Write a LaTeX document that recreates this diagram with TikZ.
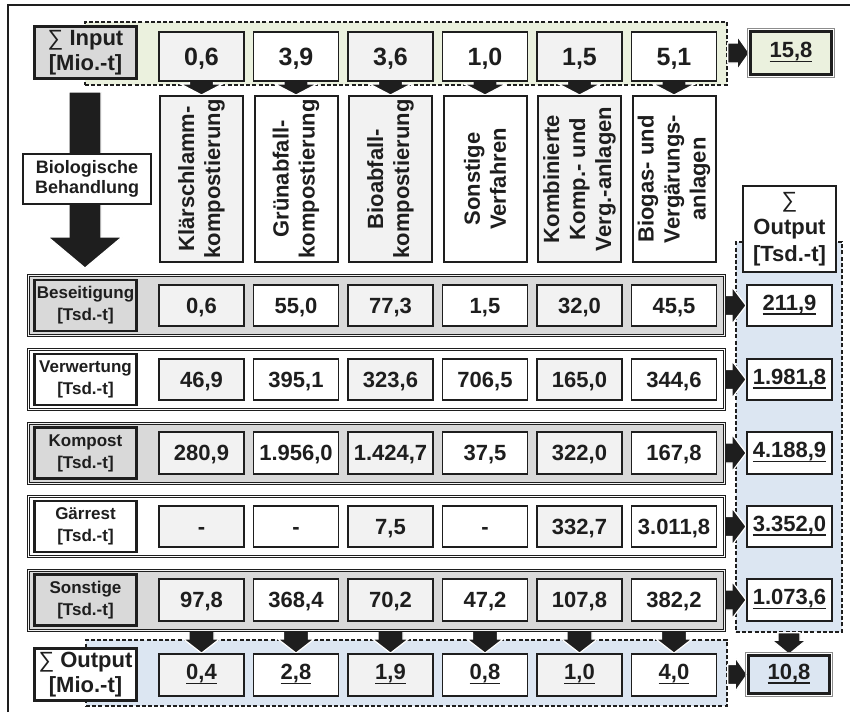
\documentclass[tikz,border=0pt]{standalone}
\usepackage{fontspec}
\setmainfont{Liberation Sans}
\usetikzlibrary{calc}
\pgfdeclarelayer{back}
\pgfdeclarelayer{mid}
\pgfsetlayers{back,mid,main}

\definecolor{ink}{HTML}{1E1E1E}
\definecolor{bandgray}{HTML}{D9D9D9}
\definecolor{cellgray}{HTML}{F2F2F2}
\definecolor{ingreen}{HTML}{EBF1DE}
\definecolor{outblue}{HTML}{DCE6F2}

\newcommand\fs[2]{\fontsize{#1}{#2}\selectfont\bfseries}
\newcommand\ulnum[1]{\setbox0\hbox{#1}\leavevmode\rlap{\rule[-4.5pt]{\wd0}{1.8pt}}\box0}
\newcommand\sumsign{{\mdseries ∑}}
\newcommand\unitM{[Mio.-t]}
\newcommand\unitT{[Tsd.-t]}

\tikzset{
  frameline/.style={draw=ink, line width=1.8pt},
  region/.style={draw=ink, line width=1.5pt, dash pattern=on 4pt off 2.2pt, inner sep=0pt},
  cell/.style={draw=ink, line width=1.8pt, minimum width=85pt, minimum height=41.5pt,
    inner sep=0pt, text=ink, font=\fs{22}{24}, text height=15.8pt, text depth=0pt},
  ulcell/.style={cell, text depth=6pt},
  band/.style={draw=ink, line width=1pt, double distance=1pt, minimum width=696pt,
    minimum height=60pt, inner sep=0pt},
  labelbox/.style={draw=ink, line width=2.4pt, minimum width=102pt, minimum height=51pt,
    inner sep=0pt, text=ink, align=center, font=\fs{17}{22}},
  vbox/.style={draw=ink, line width=2pt, minimum width=83pt, minimum height=166pt, inner sep=0pt},
  vtext/.style={rotate=90, align=center, text=ink, font=\fs{22}{26}, inner sep=0pt},
  totbox/.style={draw=ink, line width=3pt, minimum width=80.6pt, inner sep=0pt, text=ink,
    font=\fs{22}{24}, text height=15.8pt, text depth=6pt},
  blockarrow/.style={fill=ink, draw=white, line width=1.2pt, line join=miter},
}

% one row of six value cells, alternating light gray and white
\newcommand\cellrow[9]{%
  \node[cell,fill=cellgray,#3] (#1-1) at (201.5,#2) {#4};
  \node[cell,fill=white,#3] (#1-2) at (296,#2) {#5};
  \node[cell,fill=cellgray,#3] (#1-3) at (390.5,#2) {#6};
  \node[cell,fill=white,#3] (#1-4) at (485,#2) {#7};
  \node[cell,fill=cellgray,#3] (#1-5) at (579.5,#2) {#8};
  \node[cell,fill=white,#3] (#1-6) at (674,#2) {#9};}

% block arrow pointing down: start point, tip, shaft half width, head half width, head length
\newcommand\DnArrow[5]{%
  \filldraw[blockarrow] let \p1=(#1), \p2=(#2) in
    (\x2-#3,\y1) -- (\x2+#3,\y1) -- (\x2+#3,\y2+#5) -- (\x2+#4,\y2+#5)
    -- (\x2,\y2) -- (\x2-#4,\y2+#5) -- (\x2-#3,\y2+#5) -- cycle;}

% block arrow pointing right: start point, tip, shaft half height, head half height, head length
\newcommand\RtArrow[5]{%
  \filldraw[blockarrow] let \p1=(#1), \p2=(#2) in
    (\x1,\y2+#3) -- (\x2-#5,\y2+#3) -- (\x2-#5,\y2+#4) -- (\x2,\y2)
    -- (\x2-#5,\y2-#4) -- (\x2-#5,\y2-#3) -- (\x1,\y2-#3) -- cycle;}

\begin{document}
\begin{tikzpicture}[x=1pt,y=-1pt]
\useasboundingbox (0,0) rectangle (853,712);

% outer frame
\draw[frameline] (8,712) -- (8,5) -- (850,5);

% shaded dashed groups
\begin{pgfonlayer}{back}
  \node[region, fill=ingreen, minimum width=642pt, minimum height=63pt] (inreg) at (406,53.5) {};
  \node[region, fill=outblue, minimum width=106pt, minimum height=390pt] (rreg) at (789,437) {};
  \node[region, fill=outblue, minimum width=641pt, minimum height=66pt] (oreg) at (406.5,673) {};
\end{pgfonlayer}

% input row
\node[labelbox, fill=bandgray, minimum height=52pt, font=\fs{22}{25}] (inlab) at (85.5,52.5) {\sumsign\ Input\\\unitM};
\cellrow{t}{56.5}{minimum height=49pt, font=\fs{25}{28}, text height=17.9pt}{0,6}{3,9}{3,6}{1,0}{1,5}{5,1}
\node[totbox, fill=ingreen, minimum height=42.6pt] (tot1) at (791,53) {\ulnum{15,8}};
\draw[line width=1.2pt, black!45] ([shift={(-1.6pt,-1.6pt)}]tot1.south west) rectangle ([shift={(1.6pt,1.6pt)}]tot1.north east);

% treatment types
\node[vbox, fill=cellgray] (k1) at (201.5,179) {};
\node[vtext] (k1t) at (k1) {Klärschlamm-\\kompostierung};
\node[vbox, fill=white] (k2) at (296,179) {};
\node[vtext] (k2t) at (k2) {Grünabfall-\\kompostierung};
\node[vbox, fill=cellgray] (k3) at (390.5,179) {};
\node[vtext] (k3t) at (k3) {Bioabfall-\\kompostierung};
\node[vbox, fill=white] (k4) at (485,179) {};
\node[vtext] (k4t) at (k4) {Sonstige\\Verfahren};
\node[vbox, fill=cellgray] (k5) at (579.5,179) {};
\node[vtext] (k5t) at (k5) {Kombinierte\\Komp.- und\\Verg.-anlagen};
\node[vbox, fill=white] (k6) at (674,179) {};
\node[vtext] (k6t) at (k6) {Biogas- und\\Vergärungs-\\anlagen};

% left process arrow
\coordinate (bigtop) at (85,92);
\coordinate (bigtip) at (85,268);
\node[draw=ink, line width=2pt, fill=white, minimum width=128pt, minimum height=50pt,
  inner sep=0pt, align=center, text=ink, font=\fs{18}{20}] (bio) at (87,179) {Biologische\\Behandlung};

% output header
\node[draw=ink, line width=2pt, fill=white, minimum width=92.5pt, minimum height=85.5pt,
  inner sep=0pt, align=center, text=ink, font=\fs{22}{27}] (outhead) at (789.5,229) {\sumsign\\Output\\\unitT};

% output rows
\node[band, fill=bandgray, double=cellgray] (b1) at (376.5,305.5) {};
\node[band, fill=white, double=white] (b2) at (376.5,379.5) {};
\node[band, fill=bandgray, double=cellgray] (b3) at (376.5,453) {};
\node[band, fill=white, double=white] (b4) at (376.5,526.5) {};
\node[band, fill=bandgray, double=cellgray] (b5) at (376.5,600) {};

\node[labelbox, fill=bandgray] (l1) at (85.5,305.5) {Beseitigung\\\unitT};
\node[labelbox, fill=white] (l2) at (85.5,379.5) {Verwertung\\\unitT};
\node[labelbox, fill=bandgray] (l3) at (85.5,453) {Kompost\\\unitT};
\node[labelbox, fill=white] (l4) at (85.5,526.5) {Gärrest\\\unitT};
\node[labelbox, fill=bandgray] (l5) at (85.5,600) {Sonstige\\\unitT};

\cellrow{v1}{305.5}{}{0,6}{55,0}{77,3}{1,5}{32,0}{45,5}
\cellrow{v2}{379.5}{}{46,9}{395,1}{323,6}{706,5}{165,0}{344,6}
\cellrow{v3}{453}{}{280,9}{1.956,0}{1.424,7}{37,5}{322,0}{167,8}
\cellrow{v4}{526.5}{}{-}{-}{7,5}{-}{332,7}{3.011,8}
\cellrow{v5}{600}{}{97,8}{368,4}{70,2}{47,2}{107,8}{382,2}

\node[ulcell, fill=white] (r1) at (789.5,305.5) {\ulnum{211,9}};
\node[ulcell, fill=white] (r2) at (789.5,379.5) {\ulnum{1.981,8}};
\node[ulcell, fill=white] (r3) at (789.5,453) {\ulnum{4.188,9}};
\node[ulcell, fill=white] (r4) at (789.5,526.5) {\ulnum{3.352,0}};
\node[ulcell, fill=white] (r5) at (789.5,600) {\ulnum{1.073,6}};

% output totals row
\node[labelbox, fill=white, minimum height=52pt, font=\fs{22}{25}] (outlab) at (85.5,674.5) {\sumsign\ Output\\\unitM};
\cellrow{o}{675}{text depth=6pt, minimum height=42pt}{\ulnum{0,4}}{\ulnum{2,8}}{\ulnum{1,9}}{\ulnum{0,8}}{\ulnum{1,0}}{\ulnum{4,0}}
\node[totbox, fill=outblue, minimum height=37.6pt] (tot2) at (789,674.5) {\ulnum{10,8}};
\draw[line width=1.2pt, black!45] ([shift={(-1.6pt,-1.6pt)}]tot2.south west) rectangle ([shift={(1.6pt,1.6pt)}]tot2.north east);

% flow arrows
\begin{pgfonlayer}{mid}
  \DnArrow{bigtop}{bigtip}{16pt}{37pt}{31pt}
  \foreach \i in {1,...,6} {
    \DnArrow{t-\i.center}{k\i.north}{12pt}{21pt}{11pt}
    \DnArrow{[yshift=2pt]b5.south}{o-\i.north}{12.5pt}{18pt}{14pt}
  }
  \foreach \i in {1,...,5} {
    \RtArrow{[xshift=-2pt]b\i.east}{r\i.west}{10pt}{18.5pt}{14pt}
  }
  \RtArrow{inreg.east}{tot1.west}{10pt}{17pt}{12pt}
  \RtArrow{oreg.east}{tot2.west}{10pt}{17pt}{12pt}
  \DnArrow{rreg.south}{tot2.north}{11pt}{17pt}{14pt}
\end{pgfonlayer}
\end{tikzpicture}
\end{document}
